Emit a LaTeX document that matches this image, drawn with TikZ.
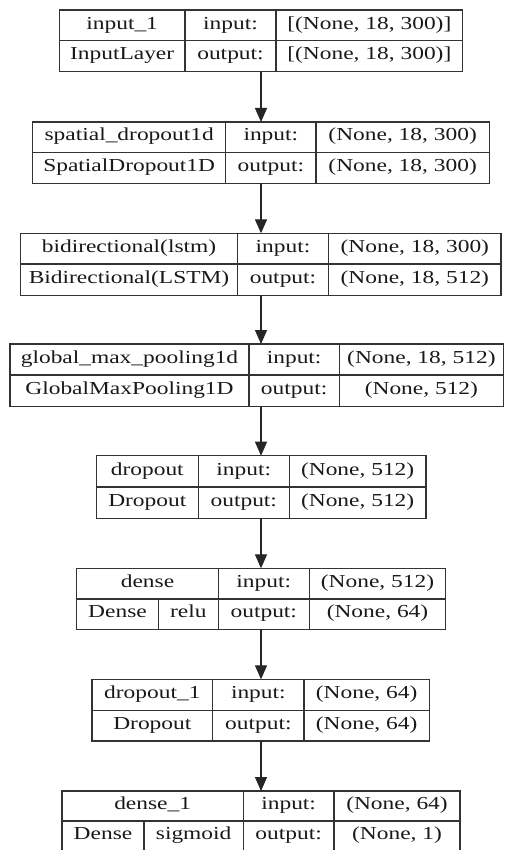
\documentclass[tikz,border=0pt]{standalone}
\usepackage{fontspec}
\setmainfont[FakeStretch=1.28]{Liberation Serif}
\usetikzlibrary{arrows.meta}
\tikzset{
  boxline/.style={draw=black!80, line width=1.2pt},
  layer/.style={boxline, rectangle, inner sep=0pt, outer sep=0pt, anchor=north west},
  txt/.style={font=\fontsize{18.3}{20}\selectfont, inner sep=0pt, anchor=base, text=black!90},
  arr/.style={draw=black!85, line width=1.3pt, -{Triangle[length=14pt,width=12pt]}}
}
\newcommand\layerbox[8]{% name L R T M B d1 d2
  \node[layer, minimum width={(#3-#2)*1pt}, minimum height={(#6-#4)*1pt}] (#1) at (#2,#4) {};
  \draw[boxline] (#7,#4) -- (#7,#6) (#8,#4) -- (#8,#6) (#2,#5) -- (#3,#5);
}
\newcommand\cell[6]{% name x1 x2 y1 y2 text
  \node[txt] (#1) at ({(#2+#3)/2},{(#4+#5)/2+3.7}) {#6};
}
\begin{document}
\begin{tikzpicture}[x=1pt,y=-1pt]
\useasboundingbox (0,0) rectangle (505,850);
\clip (0,0) rectangle (505,850);
\fill[white] (0,0) rectangle (505,850);
\coordinate (ax) at (261,0);

% Box 1
\layerbox{b1}{59.3}{462.7}{10}{40.7}{71.7}{185}{276}
\cell{b1a}{59.3}{185}{10}{40.7}{input\_1}
\cell{b1b}{59.3}{185}{40.7}{71.7}{InputLayer}
\cell{b1c}{185}{276}{10}{40.7}{input:}
\cell{b1d}{185}{276}{40.7}{71.7}{output:}
\cell{b1e}{276}{462.7}{10}{40.7}{[(None, 18, 300)]}
\cell{b1f}{276}{462.7}{40.7}{71.7}{[(None, 18, 300)]}

% Box 2
\layerbox{b2}{32.7}{489.3}{122}{152.3}{183.3}{225.7}{316}
\cell{b2a}{32.7}{225.7}{122}{152.3}{spatial\_dropout1d}
\cell{b2b}{32.7}{225.7}{152.3}{183.3}{SpatialDropout1D}
\cell{b2c}{225.7}{316}{122}{152.3}{input:}
\cell{b2d}{225.7}{316}{152.3}{183.3}{output:}
\cell{b2e}{316}{489.3}{122}{152.3}{(None, 18, 300)}
\cell{b2f}{316}{489.3}{152.3}{183.3}{(None, 18, 300)}

% Box 3
\layerbox{b3}{20.7}{501}{233.3}{264}{295.3}{237.3}{328.7}
\cell{b3a}{20.7}{237.3}{233.3}{264}{bidirectional(lstm)}
\cell{b3b}{20.7}{237.3}{264}{295.3}{Bidirectional(LSTM)}
\cell{b3c}{237.3}{328.7}{233.3}{264}{input:}
\cell{b3d}{237.3}{328.7}{264}{295.3}{output:}
\cell{b3e}{328.7}{501}{233.3}{264}{(None, 18, 300)}
\cell{b3f}{328.7}{501}{264}{295.3}{(None, 18, 512)}

% Box 4
\layerbox{b4}{10}{503.5}{344}{375}{406.7}{249}{339.3}
\cell{b4a}{10}{249}{344}{375}{global\_max\_pooling1d}
\cell{b4b}{10}{249}{375}{406.7}{GlobalMaxPooling1D}
\cell{b4c}{249}{339.3}{344}{375}{input:}
\cell{b4d}{249}{339.3}{375}{406.7}{output:}
\cell{b4e}{339.3}{503.5}{344}{375}{(None, 18, 512)}
\cell{b4f}{339.3}{503.5}{375}{406.7}{(None, 512)}

% Box 5
\layerbox{b5}{96.3}{426}{455.7}{487}{518.3}{198.3}{289.3}
\cell{b5a}{96.3}{198.3}{455.7}{487}{dropout}
\cell{b5b}{96.3}{198.3}{487}{518.3}{Dropout}
\cell{b5c}{198.3}{289.3}{455.7}{487}{input:}
\cell{b5d}{198.3}{289.3}{487}{518.3}{output:}
\cell{b5e}{289.3}{426}{455.7}{487}{(None, 512)}
\cell{b5f}{289.3}{426}{487}{518.3}{(None, 512)}

% Box 6
\layerbox{b6}{76.7}{445.7}{568.3}{599}{629.3}{218.3}{309.3}
\draw[boxline] (158.3,599) -- (158.3,629.3);
\cell{b6a}{76.7}{218.3}{568.3}{599}{dense}
\cell{b6b}{76.7}{158.3}{599}{629.3}{Dense}
\cell{b6g}{158.3}{218.3}{599}{629.3}{relu}
\cell{b6c}{218.3}{309.3}{568.3}{599}{input:}
\cell{b6d}{218.3}{309.3}{599}{629.3}{output:}
\cell{b6e}{309.3}{445.7}{568.3}{599}{(None, 512)}
\cell{b6f}{309.3}{445.7}{599}{629.3}{(None, 64)}

% Box 7
\layerbox{b7}{92}{429.3}{679.3}{710.7}{741}{212.7}{304}
\cell{b7a}{92}{212.7}{679.3}{710.7}{dropout\_1}
\cell{b7b}{92}{212.7}{710.7}{741}{Dropout}
\cell{b7c}{212.7}{304}{679.3}{710.7}{input:}
\cell{b7d}{212.7}{304}{710.7}{741}{output:}
\cell{b7e}{304}{429.3}{679.3}{710.7}{(None, 64)}
\cell{b7f}{304}{429.3}{710.7}{741}{(None, 64)}

% Box 8
\layerbox{b8}{62}{460}{791}{821}{852}{243.3}{334}
\draw[boxline] (144,821) -- (144,852);
\cell{b8a}{62}{243.3}{791}{821}{dense\_1}
\cell{b8b}{62}{144}{821}{851}{Dense}
\cell{b8g}{144}{243.3}{821}{851}{sigmoid}
\cell{b8c}{243.3}{334}{791}{821}{input:}
\cell{b8d}{243.3}{334}{821}{851}{output:}
\cell{b8e}{334}{460}{791}{821}{(None, 64)}
\cell{b8f}{334}{460}{821}{851}{(None, 1)}

% Arrows
\draw[arr] (b1.south -| ax) -- (b2.north -| ax);
\draw[arr] (b2.south -| ax) -- (b3.north -| ax);
\draw[arr] (b3.south -| ax) -- (b4.north -| ax);
\draw[arr] (b4.south -| ax) -- (b5.north -| ax);
\draw[arr] (b5.south -| ax) -- (b6.north -| ax);
\draw[arr] (b6.south -| ax) -- (b7.north -| ax);
\draw[arr] (b7.south -| ax) -- (b8.north -| ax);
\end{tikzpicture}
\end{document}
